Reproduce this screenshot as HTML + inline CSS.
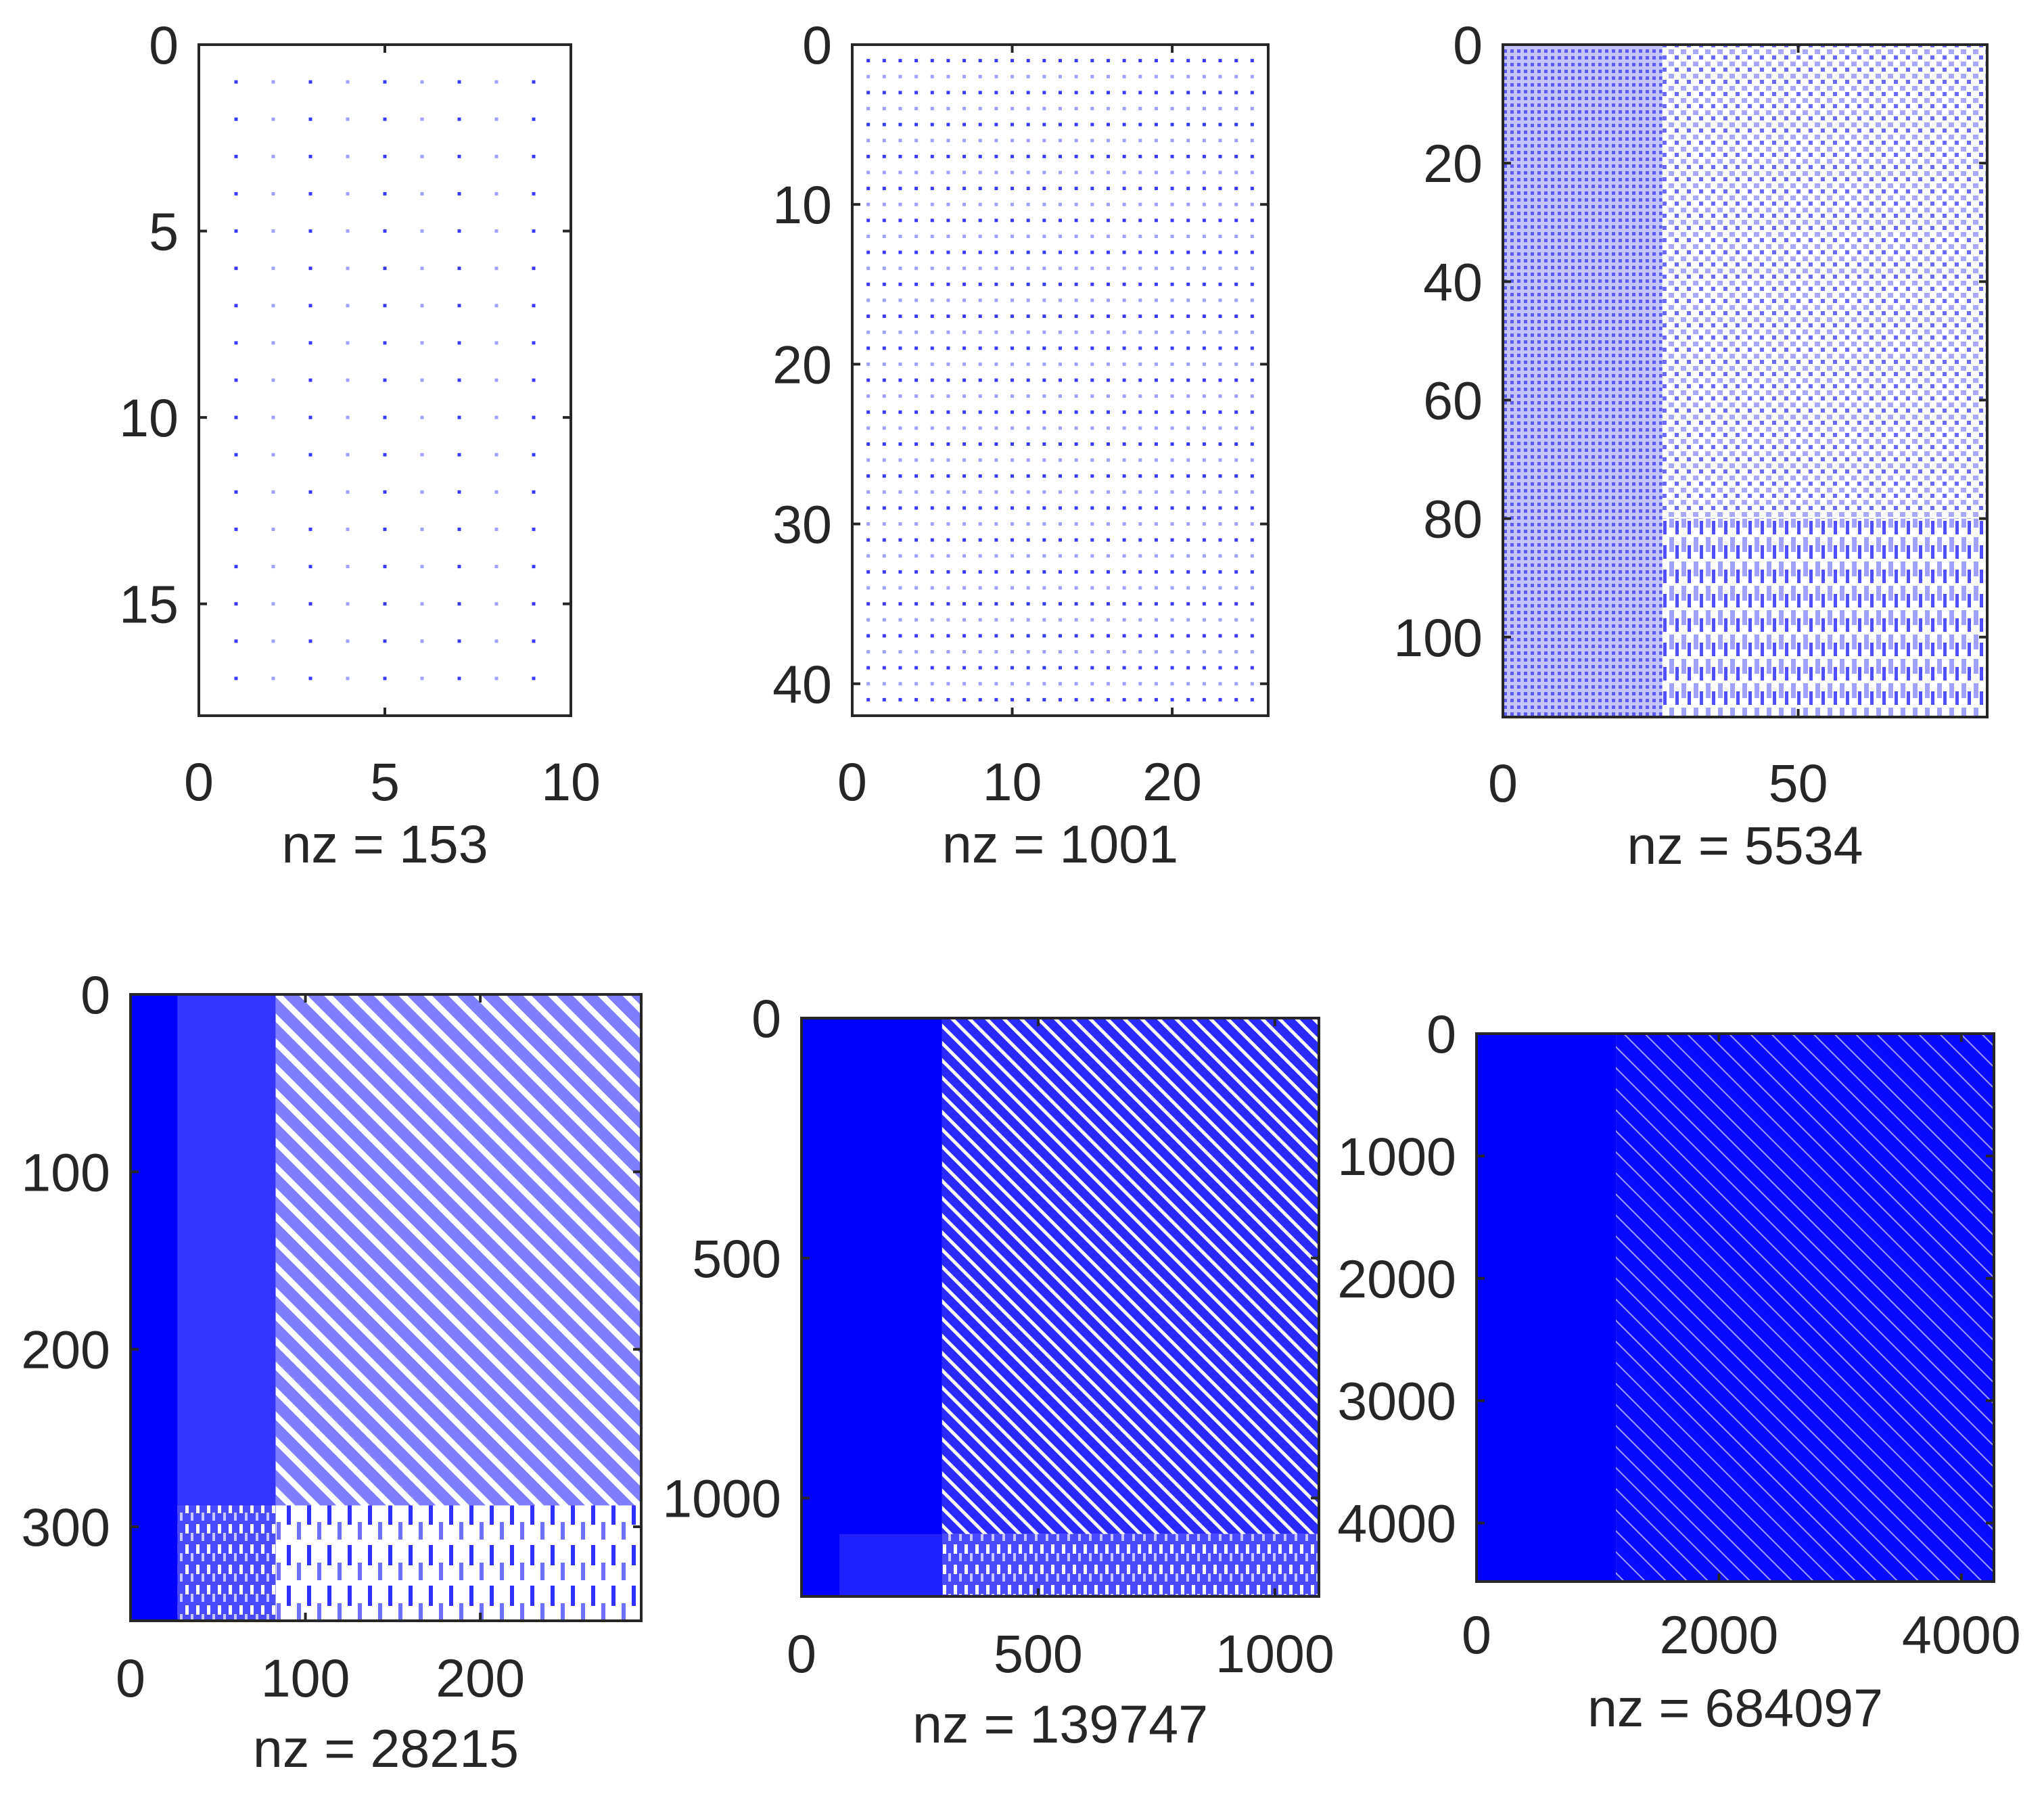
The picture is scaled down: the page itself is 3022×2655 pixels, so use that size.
<!DOCTYPE html>
<html><head><meta charset="utf-8"><style>
html,body{margin:0;padding:0;background:#fff}
svg{display:block}
text{font-family:"Liberation Sans",Arial,sans-serif;font-size:79px;fill:#262626}
</style></head><body>
<svg id="fig" width="3022" height="2655" viewBox="0 0 3022 2655" xmlns="http://www.w3.org/2000/svg">
<defs>
<pattern id="diagA" width="26" height="26" patternUnits="userSpaceOnUse" patternTransform="rotate(-45)"><rect width="26" height="26" fill="#7e7eff"/><rect width="9" height="26" fill="#ffffff"/></pattern>
<pattern id="diagB" width="18" height="18" patternUnits="userSpaceOnUse" patternTransform="rotate(-45)"><rect width="18" height="18" fill="#2a2aff"/><rect width="5" height="18" fill="#ffffff"/></pattern>
<pattern id="diagC" width="22" height="22" patternUnits="userSpaceOnUse" patternTransform="rotate(-45)"><rect width="22" height="22" fill="#0a0aff"/><rect width="2" height="22" fill="#9a9aff"/></pattern>
<pattern id="dashA" width="30" height="60" patternUnits="userSpaceOnUse"><rect width="30" height="60" fill="#ffffff"/><rect x="4" y="4" width="6" height="30" fill="#3030ff"/><rect x="19" y="30" width="6" height="26" fill="#7070ff"/></pattern>
<pattern id="dashB" width="16" height="30" patternUnits="userSpaceOnUse"><rect width="16" height="30" fill="#4a4aff"/><rect x="2" y="3" width="5" height="14" fill="#ffffff"/><rect x="10" y="16" width="4" height="12" fill="#c8c8ff"/></pattern>
<pattern id="dashC" width="18" height="36" patternUnits="userSpaceOnUse"><rect width="18" height="36" fill="#ffffff"/><rect x="2" y="2" width="7" height="22" fill="#a0a0ff"/><rect x="11" y="14" width="5" height="20" fill="#5050ff"/></pattern>
<pattern id="gridL" width="10" height="10" patternUnits="userSpaceOnUse"><rect width="10" height="10" fill="#c4c4ff"/><rect x="3" y="3" width="5" height="5" fill="#5a5aff"/></pattern>
<pattern id="gridR" width="18" height="18" patternUnits="userSpaceOnUse"><rect width="18" height="18" fill="#ffffff"/><rect x="1" y="1" width="8" height="7" fill="#a8a8ff"/><rect x="10" y="10" width="6" height="6" fill="#6a6aff"/></pattern>
</defs>
<g id="root"></g>
</svg>
<script>
// ---- data ----
const nzValues = [153, 1001, 5534, 28215, 139747, 684097];
const colCounts = [10, 26, 82, 292, 1093, 4269];
const rowCounts = [18, 42, 113.5, 353, 1205, 4478];
const xTicks = [[0,5,10],[0,10,20],[0,50],[0,100,200],[0,500,1000],[0,2000,4000]];
const yTicks = [[0,5,10,15],[0,10,20,30,40],[0,20,40,60,80,100],[0,100,200,300],[0,500,1000],[0,1000,2000,3000,4000]];
// dot grids for small matrices: rows, cols
const dotRows = [17, 41];
const dotCols = [9, 25];
// regions: [colStart, colEnd, rowStart, rowEnd, fill]
const regions3 = [[0,27,0,113.5,'url(#gridL)'],[27,82,0,80,'url(#gridR)'],[27,82,80,113.5,'url(#dashC)']];
const regions4 = [[0,27,0,353,'#0000ff'],[27,83,0,288,'#3434ff'],[83,292,0,288,'url(#diagA)'],[27,83,288,353,'url(#dashB)'],[83,292,288,353,'url(#dashA)']];
const regions5 = [[0,297,0,1205,'#0000ff'],[297,1093,0,1075,'url(#diagB)'],[297,1093,1075,1205,'url(#dashB)'],[80,297,1075,1205,'#2020ff']];
const regions6 = [[0,1150,0,4478,'#0000ff'],[1150,4269,0,4478,'url(#diagC)']];
const regionSets = [null, null, regions3, regions4, regions5, regions6];
// ---- layout (pixel boxes) ----
const boxes = [[294,66,844,1058],[1260,66,1875,1058],[2222,66,2938,1060],[193,1470,948,2396],[1185,1505,1950,2360],[2183,1528,2948,2338]];
const xLabelOff = [97,97,97,84,84,78];
const nzOff = [189,189,189,188,188,186];

const NS = 'http://www.w3.org/2000/svg';
const root = document.getElementById('root');
function mk(tag, attrs, parent){const e=document.createElementNS(NS,tag);for(const k in attrs)e.setAttribute(k,attrs[k]);(parent||root).appendChild(e);return e;}

for (let p=0;p<6;p++){
  const [L,T,R,B]=boxes[p];
  const sx=v=>L+(v/colCounts[p])*(R-L);
  const sy=v=>T+(v/rowCounts[p])*(B-T);
  const g=mk('g',{});
  
  
  if (p<2){
    const s=5;
    for(let r=1;r<=dotRows[p];r++)for(let c=1;c<=dotCols[p];c++){
      const light=(p===0)?(c%2===0):(r%2===0);
      const d=mk('rect',{x:sx(c)-s/2,y:sy(r)-s/2,width:s,height:s,fill:light?'#a0a0ff':'#3a3aff'},g);
      
      
    }
  } else {
    for(const rg of regionSets[p]){
      const e=mk('rect',{x:sx(rg[0]),y:sy(rg[2]),width:sx(rg[1])-sx(rg[0]),height:sy(rg[3])-sy(rg[2]),fill:rg[4]},g);
      
      
    }
  }
  const box=mk('rect',{x:L,y:T,width:R-L,height:B-T,fill:'none',stroke:'#262626','stroke-width':4},g);
  
  
  for(const t of xTicks[p]){
    const x=sx(t);
    mk('line',{x1:x,y1:B,x2:x,y2:B-12,stroke:'#262626','stroke-width':4},g);
    mk('line',{x1:x,y1:T,x2:x,y2:T+12,stroke:'#262626','stroke-width':4},g);
    const tx=mk('text',{x:x,y:B+xLabelOff[p]+28,'text-anchor':'middle'},g);
    tx.textContent=t;
    
    
  }
  for(const t of yTicks[p]){
    const y=sy(t);
    mk('line',{x1:L,y1:y,x2:L+12,y2:y,stroke:'#262626','stroke-width':4},g);
    mk('line',{x1:R,y1:y,x2:R-12,y2:y,stroke:'#262626','stroke-width':4},g);
    const ty=mk('text',{x:L-30,y:y+28,'text-anchor':'end'},g);
    ty.textContent=t;
    
    
  }
  const nz=mk('text',{x:(L+R)/2,y:B+nzOff[p]+28,'text-anchor':'middle'},g);
  nz.textContent='nz = '+nzValues[p];
  
  
}
</script>
</body></html>
